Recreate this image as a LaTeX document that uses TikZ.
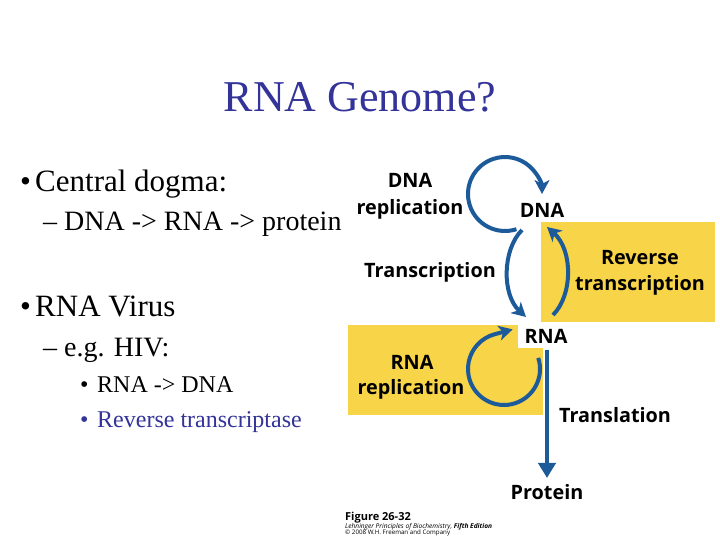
\documentclass[tikz,border=0pt]{standalone}
\usepackage{fontspec}
\setmainfont{Liberation Serif}
\newfontfamily\figfont{Open Sans}
\usetikzlibrary{arrows.meta}
\definecolor{titleblue}{RGB}{51,51,153}
\definecolor{gold}{RGB}{248,212,72}
\definecolor{arrowblue}{RGB}{28,90,154}
\begin{document}
\begin{tikzpicture}[x=1pt,y=1pt,
  txt/.style={inner sep=0pt, anchor=base west},
  lvlone/.style={txt, font=\fontsize{31}{36}\selectfont},
  lvltwo/.style={txt, font=\fontsize{28}{32}\selectfont},
  lvlthree/.style={txt, font=\fontsize{24}{28}\selectfont},
  lbl/.style={inner sep=0pt, anchor=base, font=\figfont\bfseries\fontsize{19.8}{22}\selectfont},
  captext/.style={inner sep=0pt, anchor=base west},
  flow/.style={draw=arrowblue, line width=4pt, -{Stealth[length=14pt,width=15pt,inset=4pt]}},
  straightflow/.style={draw=arrowblue, line width=4pt, -{Triangle[length=15pt,width=17pt]}},
]
\useasboundingbox (0,0) rectangle (720,540);
\fill[white] (0,0) rectangle (720,540);
% title and bullet text
\node[inner sep=0pt,anchor=base,text=titleblue,font=\fontsize{44}{50}\selectfont] (title) at (360,428) {RNA Genome?};
\node[lvlone] (b1) at (20,348) {•};
\node[lvlone] (t1) at (35,348) {Central dogma:};
\node[lvltwo] (t2) at (43,309) {– DNA -> RNA -> protein};
\node[lvlone] (b2) at (20,223) {•};
\node[lvlone] (t3) at (35,223) {RNA Virus};
\node[lvltwo] (t4) at (43,183) {– e.g. HIV:};
\node[lvlthree] (b3) at (80,147) {•};
\node[lvlthree] (t5) at (97,147) {RNA -> DNA};
\node[lvlthree,text=titleblue] (b4) at (80,112) {•};
\node[lvlthree,text=titleblue] (t6) at (97,112) {Reverse transcriptase};
% yellow panels
\fill[gold] (541,218) rectangle (715,318);
\fill[gold] (348,125) rectangle (543,215);
\fill[white] (518,192) rectangle (572,218);
% figure labels
\node[lbl] (dnarep1) at (410,352) {DNA};
\node[lbl] (dnarep2) at (410,325) {replication};
\node[lbl] (dna) at (542,322) {DNA};
\node[lbl] (transc) at (430,262) {Transcription};
\node[lbl] (rev1) at (640,275) {Reverse};
\node[lbl] (rev2) at (640,249) {transcription};
\node[lbl] (rna) at (546,196) {RNA};
\node[lbl] (rnarep1) at (412,170) {RNA};
\node[lbl] (rnarep2) at (411,145) {replication};
\node[lbl] (transl) at (615,117) {Translation};
\node[lbl] (protein) at (547,40) {Protein};
% caption
\node[captext,font=\figfont\bfseries\fontsize{11}{12}\selectfont] (cap1) at (345,19) {Figure 26-32};
\node[captext,font=\figfont\itshape\fontsize{6.6}{7}\selectfont] (cap2) at (345,11.5) {Lehninger Principles of Biochemistry, \textbf{Fifth Edition}};
\node[captext,font=\figfont\fontsize{6.2}{7}\selectfont] (cap3) at (345,5.5) {© 2008 W.H. Freeman and Company};
% loop centres and connector ends
\coordinate (dnaloop) at (505,346);
\coordinate (rnaloop) at (504,171);
\coordinate (transcA) at (522,310);
\coordinate (transcB) at (526,223);
\coordinate (revA) at (553,225);
\coordinate (revB) at (547,313);
\coordinate (translA) at (547,190);
\coordinate (translB) at (547,62);
% arrows
\draw[flow] (dnaloop) ++(-72:37) arc[start angle=-72, end angle=-360, radius=37];
\draw[flow] (transcA) .. controls (502,290) and (502,245) .. (transcB);
\draw[flow] (revA) .. controls (573,245) and (573,290) .. (revB);
\draw[flow] (rnaloop) ++(18:36) arc[start angle=18, end angle=-255, radius=36] -- ++(18,4.8);
\draw[straightflow] (translA) -- (translB);
\end{tikzpicture}
\end{document}
